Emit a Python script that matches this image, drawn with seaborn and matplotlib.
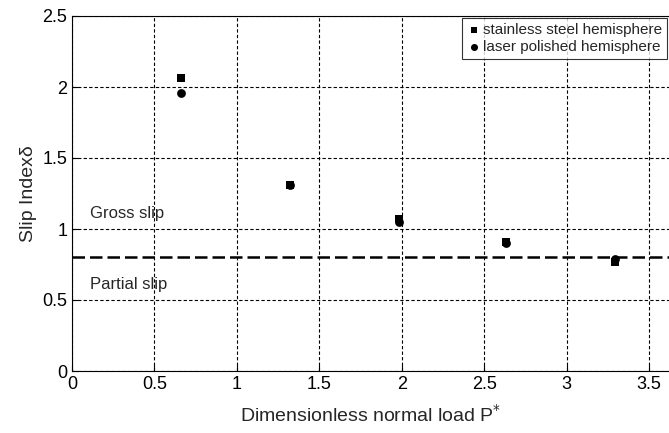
import numpy as np
import pandas as pd
import seaborn as sns
import matplotlib.pyplot as plt

## data
load = [0.66, 1.32, 1.98, 2.63, 3.29]
steel = [2.06, 1.31, 1.07, 0.91, 0.77]
laser = [1.96, 1.31, 1.05, 0.90, 0.79]
names = ["stainless steel hemisphere", "laser polished hemisphere"]
threshold = 0.8

sns.set_style("ticks")
plt.rcParams['font.family'] = ['Liberation Sans', 'DejaVu Sans']

fig = plt.figure(figsize=(6.69, 4.33), dpi=100)
ax = fig.add_axes([72 / 669, 62 / 433, 1 - 72 / 669, 355 / 433])

sns.scatterplot(x=load, y=steel, marker="s", color="black", s=26, linewidth=0,
                label=names[0], ax=ax, zorder=3)
sns.scatterplot(x=load, y=laser, marker="o", color="black", s=40, linewidth=0,
                label=names[1], ax=ax, zorder=4)

ax.axhline(threshold, color="black", linestyle="--", linewidth=1.8, dashes=(5, 2), zorder=2)
ax.text(0.11, 1.08, "Gross slip", fontsize=12)
ax.text(0.11, 0.58, "Partial slip", fontsize=12)

ax.set_xlim(0, 3.62)
ax.set_ylim(0, 2.5)
ax.set_xticks([0, 0.5, 1, 1.5, 2, 2.5, 3, 3.5])
ax.set_xticklabels(["0", "0.5", "1", "1.5", "2", "2.5", "3", "3.5"])
ax.set_yticks([0, 0.5, 1, 1.5, 2, 2.5])
ax.set_yticklabels(["0", "0.5", "1", "1.5", "2", "2.5"])
ax.tick_params(direction="in", labelsize=13, length=4, colors="black")
ax.grid(True, color="black", linestyle="--", linewidth=0.8, dashes=(3, 2))
for sp in ax.spines.values():
    sp.set_color("black")
ax.spines["right"].set_visible(False)

ax.set_xlabel("Dimensionless normal load P$^{*}$", fontsize=14, labelpad=8)
ax.set_ylabel("Slip Index\u03b4", fontsize=14)

leg = ax.legend(loc="upper right", frameon=True, fontsize=11, handletextpad=0.1,
                borderpad=0.3, labelspacing=0.2, handlelength=1.0,
                fancybox=False, borderaxespad=0.15, markerscale=0.8)
leg.get_frame().set_edgecolor("black")
leg.get_frame().set_linewidth(0.8)

plt.savefig("out.png", dpi=100)
